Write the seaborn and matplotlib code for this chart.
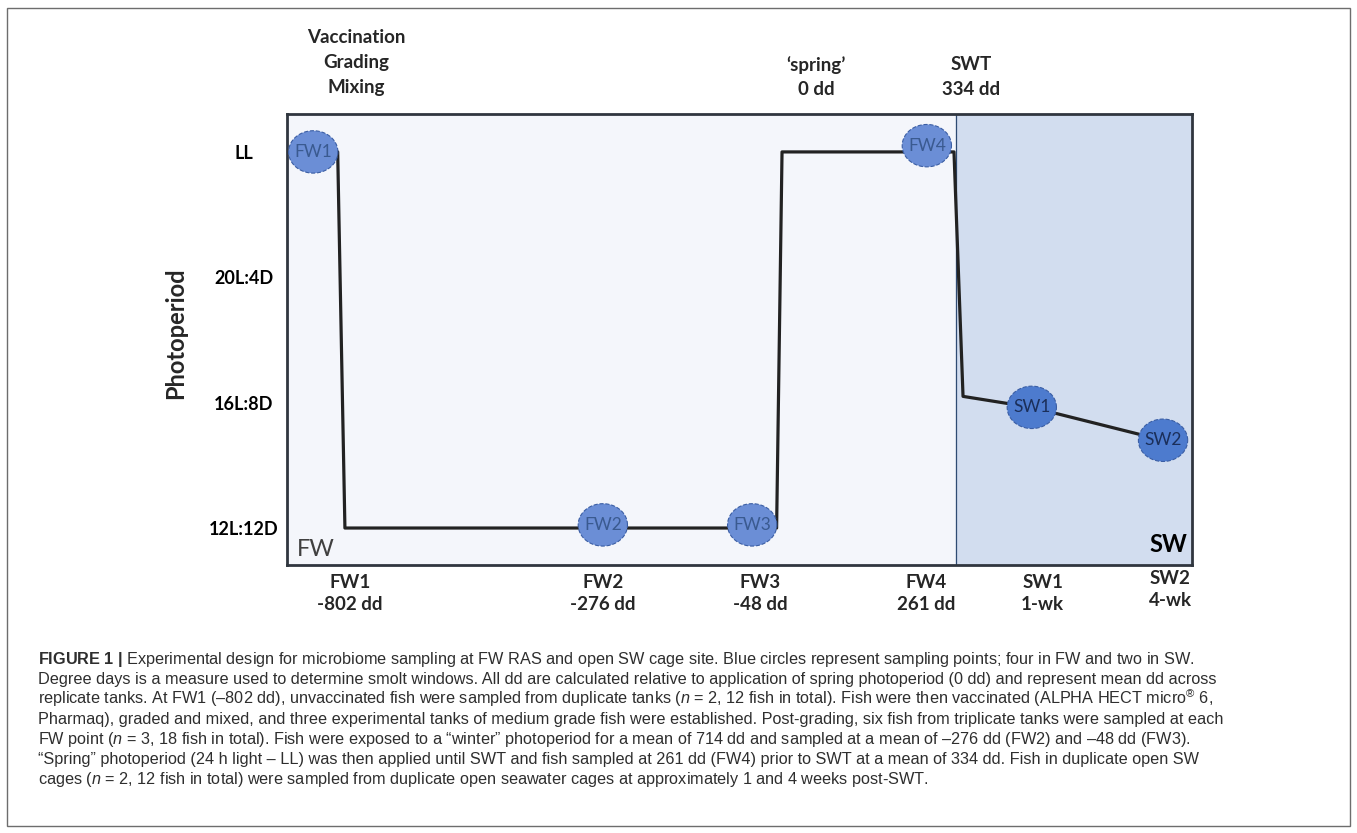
import numpy as np
import pandas as pd
import seaborn as sns
import matplotlib.pyplot as plt
from matplotlib import font_manager
from matplotlib.path import Path
from matplotlib.patches import Rectangle

# photoperiod track: x = schematic timeline position, y = hours of light
path_x = [2.9, 5.6, 6.4, 54.1, 54.7, 73.7, 74.7, 82.3, 96.8]
path_y = [24.0, 24.0, 12.0, 12.0, 24.0, 24.0, 16.2, 15.85, 14.8]

# sampling points
point_names = ["FW1", "FW2", "FW3", "FW4", "SW1", "SW2"]
point_x = [2.9, 34.9, 51.4, 70.7, 82.3, 96.8]
point_y = [24.0, 12.1, 12.1, 24.2, 15.85, 14.8]
point_site = ["FW", "FW", "FW", "FW", "SW", "SW"]

y_ticks = [24, 20, 16, 12]
y_ticklabels = ["LL", "20L:4D", "16L:8D", "12L:12D"]

swt_x = 73.9

top_events = [["Vaccination", "Grading", "Mixing"], ["\u2018spring\u2019", "0 dd"], ["SWT", "334 dd"]]
top_x = [7.62, 58.45, 75.58]

bottom_names = ["FW1", "FW2", "FW3", "FW4", "SW1", "SW2"]
bottom_dd = ["-802 dd", "-276 dd", "-48 dd", "261 dd", "1-wk", "4-wk"]
bottom_x = [6.96, 34.9, 52.27, 70.6, 83.5, 97.6]

caption = [
    r"$\mathbf{FIGURE\ 1\ |}$ Experimental design for microbiome sampling at FW RAS and open SW cage site. Blue circles represent sampling points; four in FW and two in SW.",
    "Degree days is a measure used to determine smolt windows. All dd are calculated relative to application of spring photoperiod (0 dd) and represent mean dd across",
    "replicate tanks. At FW1 (\u2013802 dd), unvaccinated fish were sampled from duplicate tanks ($n$ = 2, 12 fish in total). Fish were then vaccinated (ALPHA HECT micro$^{\u00ae}$ 6,",
    "Pharmaq), graded and mixed, and three experimental tanks of medium grade fish were established. Post-grading, six fish from triplicate tanks were sampled at each",
    "FW point ($n$ = 3, 18 fish in total). Fish were exposed to a \u201cwinter\u201d photoperiod for a mean of 714 dd and sampled at a mean of \u2013276 dd (FW2) and \u201348 dd (FW3).",
    "\u201cSpring\u201d photoperiod (24 h light \u2013 LL) was then applied until SWT and fish sampled at 261 dd (FW4) prior to SWT at a mean of 334 dd. Fish in duplicate open SW",
    "cages ($n$ = 2, 12 fish in total) were sampled from duplicate open seawater cages at approximately 1 and 4 weeks post-SWT.",
]

sns.set_theme(style="white")
names = {f.name for f in font_manager.fontManager.ttflist}
cap_font = "Liberation Sans Narrow" if "Liberation Sans Narrow" in names else "Liberation Sans"
lab_font = "Lato"
plt.rcParams["font.family"] = [lab_font, "DejaVu Sans"]
plt.rcParams["mathtext.fontset"] = "custom"
plt.rcParams["mathtext.rm"] = cap_font
plt.rcParams["mathtext.it"] = cap_font + ":italic"
plt.rcParams["mathtext.bf"] = cap_font + ":bold"

fig = plt.figure(figsize=(13.57, 8.33), dpi=100)
ax = fig.add_axes([287 / 1357, 1 - 565 / 833, 905 / 1357, 451 / 833])

ax.set_xlim(0, 100)
ax.set_ylim(10.82, 25.21)
ax.axvspan(0, swt_x, color="#f4f6fb", zorder=0)
ax.axvspan(swt_x, 100, color="#d2ddef", zorder=0)
ax.axvline(swt_x, color="#2f4b73", lw=0.9, zorder=1)

sns.lineplot(x=path_x, y=path_y, sort=False, estimator=None, color="#222222",
             lw=2.3, ax=ax, zorder=2)

t = np.linspace(0, 2 * np.pi, 80)
ellipse = Path(np.column_stack([np.cos(t), 0.86 * np.sin(t)]))
pts = pd.DataFrame({"x": point_x, "y": point_y, "site": point_site, "name": point_names})
sns.scatterplot(data=pts, x="x", y="y", hue="site",
                palette={"FW": "#6b8ed6", "SW": "#4d7bce"}, marker=ellipse, s=1260,
                edgecolor="#3b5ea4", linewidth=0.8, linestyle="--", legend=False,
                ax=ax, zorder=3)
for _, r in pts.iterrows():
    ax.text(r.x, r.y, r["name"], ha="center", va="center", fontsize=12.5,
            color="#3a5a90" if r.site == "FW" else "#1b2f5a", zorder=4)

ax.set_yticks(y_ticks)
ax.set_yticklabels(y_ticklabels, fontsize=13, fontweight="bold", color="black", ha="center")
ax.set_xticks([])
ax.tick_params(axis="y", length=0, pad=31)
ax.set_xlabel("")
ax.set_ylabel("")
for side in ["top", "bottom", "left", "right"]:
    ax.spines[side].set_visible(True)
    ax.spines[side].set_color("#30363f")
    ax.spines[side].set_linewidth(2.0)

ax.text(0.011, 0.035, "FW", transform=ax.transAxes, fontsize=17, color="#404040",
        ha="left", va="center")
ax.text(0.9945, 0.046, "SW", transform=ax.transAxes, fontsize=17, fontweight="bold",
        color="black", ha="right", va="center")

# event labels above the panel (offsets in pixels from the top edge)
top_offsets = [[76, 51, 26], [49, 24], [49, 24]]
for lines, x, offs in zip(top_events, top_x, top_offsets):
    for line, off in zip(lines, offs):
        ax.annotate(line, xy=(x, 25.21), xytext=(0, off), textcoords="offset pixels",
                    ha="center", va="center", fontsize=13.5, fontweight="bold",
                    annotation_clip=False)

for name, dd, x in zip(bottom_names, bottom_dd, bottom_x):
    o1, o2 = (-14, -35) if name == "SW2" else (-17, -40)
    ax.annotate(name, xy=(x, 10.82), xytext=(0, o1), textcoords="offset pixels",
                ha="center", va="center", fontsize=13.5, fontweight="bold",
                annotation_clip=False)
    ax.annotate(dd, xy=(x, 10.82), xytext=(0, o2), textcoords="offset pixels",
                ha="center", va="center", fontsize=13.5, fontweight="bold",
                annotation_clip=False)

fig.text(176 / 1357, 1 - 333 / 833, "Photoperiod", rotation=90, ha="center",
         va="center", fontsize=17, fontweight="bold")

# caption, sized so the second line spans the reference width
probe = fig.text(0, 0, caption[1], fontsize=10, family=cap_font)
renderer = fig.canvas.get_renderer()
w = probe.get_window_extent(renderer).width
probe.remove()
cap_size = 10 * (1222 - 38) / w
for i, line in enumerate(caption):
    fig.text(38 / 1357, 1 - (664 + 20 * i) / 833, line, fontsize=cap_size,
             family=cap_font, color="#2e2e2e", ha="left", va="baseline")

fig.patches.append(Rectangle((7 / 1357, 7 / 833), 1343 / 1357, 818 / 833,
                             transform=fig.transFigure, fill=False,
                             edgecolor="#6d6d6d", lw=1.0))

fig.savefig("out.png", dpi=100)
